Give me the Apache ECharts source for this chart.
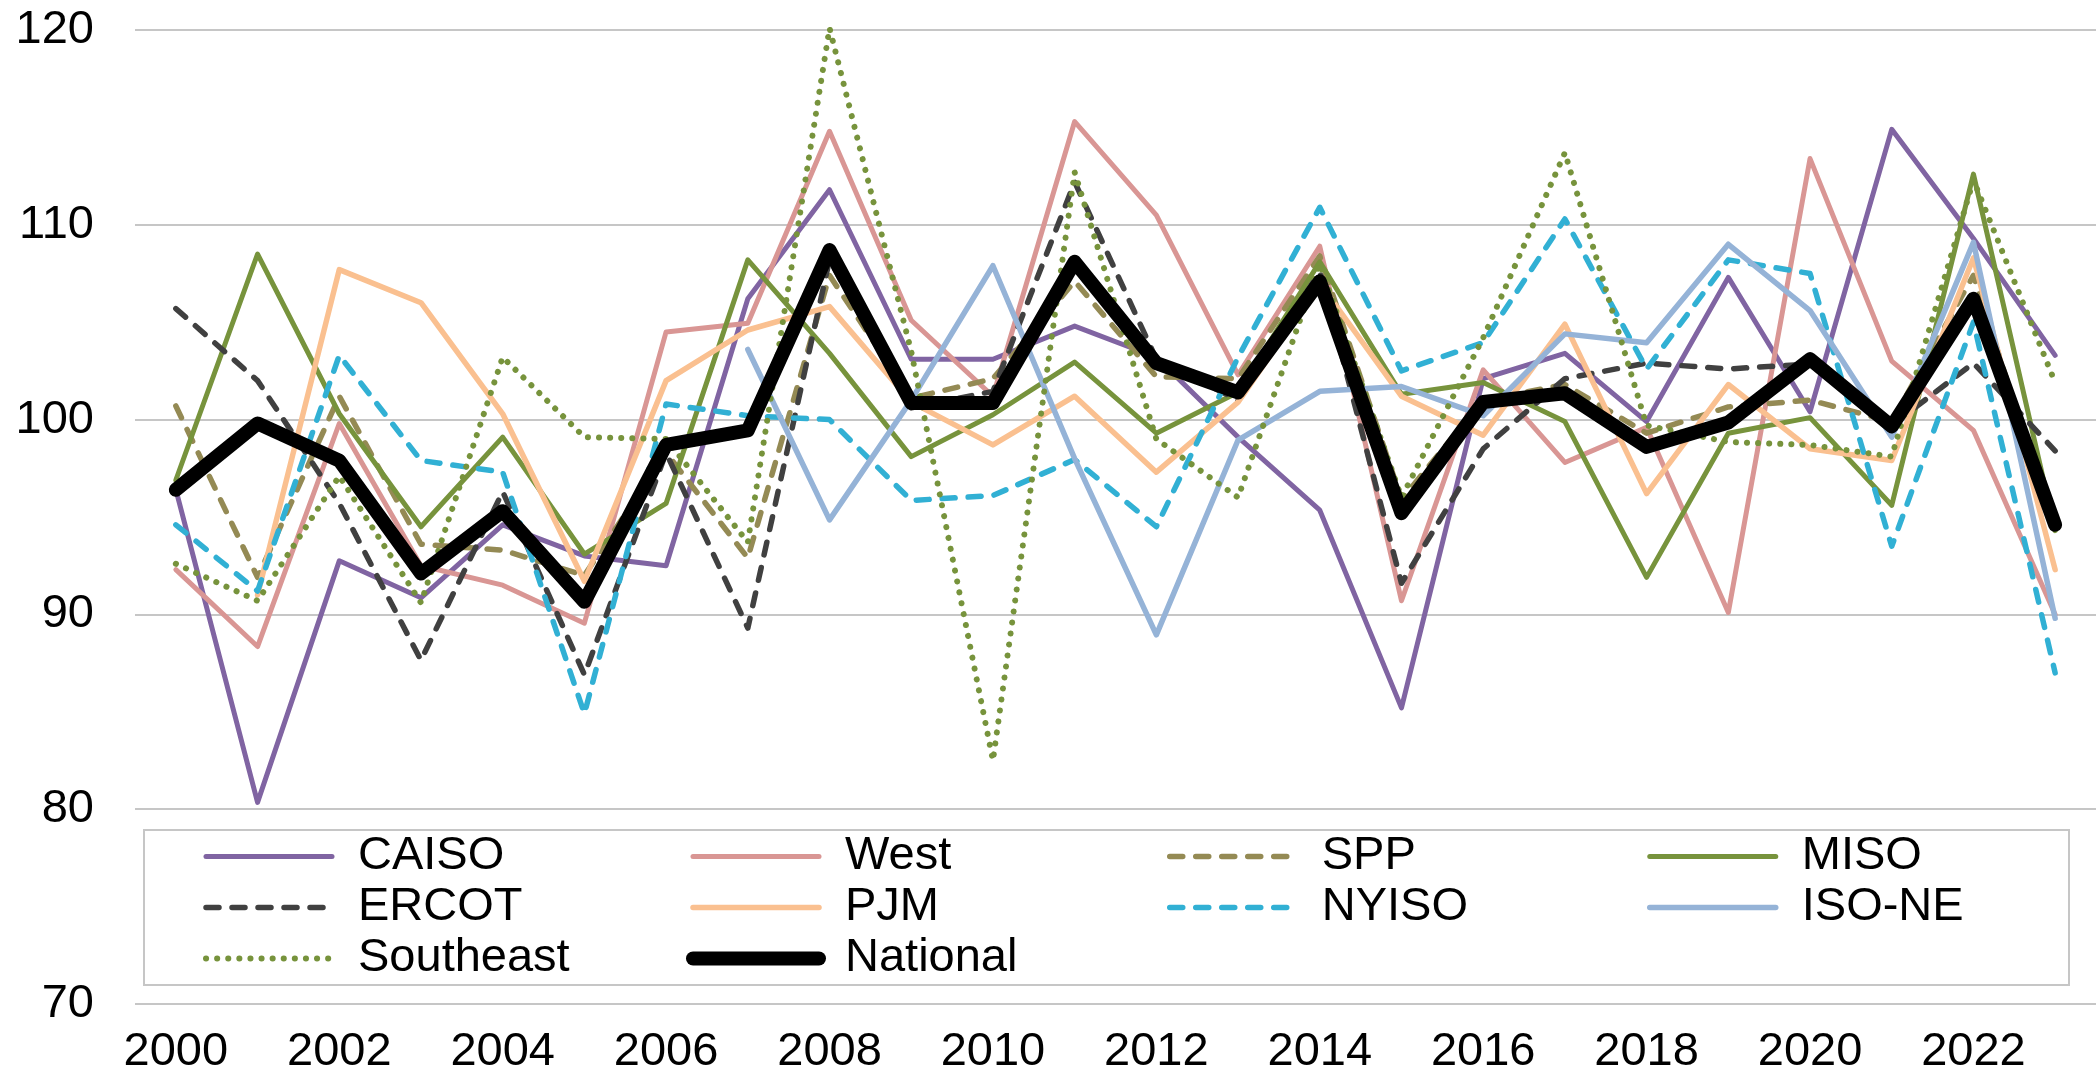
<!DOCTYPE html>
<html>
<head>
<meta charset="utf-8">
<script src="https://cdn.jsdelivr.net/npm/echarts@6/dist/echarts.min.js"></script>
<style>
  html, body { margin: 0; padding: 0; background: #fff; }
  #chart { width: 2096px; height: 1076px; }
</style>
</head>
<body>
<div id="chart"></div>
<script>
// Annual index by region, 2000-2023
const years = ['2000','2001','2002','2003','2004','2005','2006','2007','2008','2009','2010','2011',
               '2012','2013','2014','2015','2016','2017','2018','2019','2020','2021','2022','2023'];

const caiso     = [96.4, 80.35, 92.75, 90.85, 94.6, 93.0, 92.5, 106.2, 111.8, 103.1, 103.1, 104.8,
                   103.2, 99.1, 95.35, 85.2, 102.1, 103.4, 99.9, 107.3, 100.4, 114.9, 109.3, 103.3];
const west      = [92.3, 88.35, 99.8, 92.5, 91.5, 89.55, 104.5, 104.95, 114.8, 105.1, 101.2, 115.3,
                   110.5, 102.3, 108.9, 90.7, 102.55, 97.8, 99.6, 90.1, 113.4, 103.0, 99.45, 90.0];
const spp       = [100.7, 91.9, 101.2, 93.6, 93.3, 92.0, 98.3, 92.9, 107.4, 101.1, 102.1, 107.1,
                   102.2, 102.1, 108.4, 95.9, 101.0, 101.8, 99.3, 100.65, 101.0, 99.9, 107.4, 94.3];
const miso      = [96.9, 108.5, 100.3, 94.5, 99.1, 93.1, 95.7, 108.2, 103.4, 98.1, 100.25, 102.95,
                   99.3, 101.4, 108.1, 101.3, 101.9, 99.9, 91.9, 99.3, 100.1, 95.6, 112.6, 94.3];
const ercot     = [105.7, 102.0, 95.7, 87.65, 96.3, 86.9, 98.3, 89.3, 108.2, 100.6, 101.45, 112.2,
                   103.1, 101.0, 107.6, 91.6, 98.5, 102.1, 102.9, 102.6, 102.85, 99.7, 102.9, 98.4];
const pjm       = [null, 91.0, 107.7, 106.0, 100.3, 91.7, 102.0, 104.6, 105.8, 100.9, 98.7, 101.2,
                   97.3, 100.9, 107.0, 101.2, 99.2, 104.9, 96.2, 101.8, 98.5, 97.9, 108.3, 92.3];
const nyiso     = [94.6, 91.2, 103.3, 97.9, 97.3, 84.9, 100.8, 100.2, 100.0, 95.85, 96.1, 97.95,
                   94.5, 103.2, 110.9, 102.5, 103.95, 110.3, 102.6, 108.2, 107.5, 93.5, 105.0, 87.0];
const isone     = [null, null, null, null, null, null, null, 103.6, 94.85, 101.0, 107.9, 98.0,
                   88.95, 98.95, 101.45, 101.7, 100.2, 104.4, 103.95, 109.0, 105.6, 99.1, 109.1, 89.8];
const southeast = [92.6, 90.7, 97.1, 90.6, 103.2, 99.1, 99.0, 93.7, 120.1, 103.5, 82.5, 112.7,
                   99.0, 96.0, 108.0, 96.0, 104.2, 113.7, 99.7, 98.85, 98.7, 98.1, 112.3, 101.9];
const national  = [96.4, 99.8, 97.9, 92.1, 95.3, 90.65, 98.7, 99.45, 108.7, 100.85, 100.85, 108.1,
                   102.9, 101.4, 107.1, 95.2, 100.9, 101.35, 98.6, 99.85, 103.1, 99.65, 106.2, 94.6];

const yTicks = { min: 70, max: 120, step: 10 };

const FONT = "'Liberation Sans', Arial, sans-serif";

const DASH = [13, 13];
const DOT = [0.1, 11];

// Line look for each region
const styles = {
  'CAISO':     { color: '#8064A2', width: 5,   type: 'solid' },
  'West':      { color: '#D99694', width: 5,   type: 'solid' },
  'SPP':       { color: '#948A54', width: 5.5, type: DASH },
  'MISO':      { color: '#77933C', width: 5,   type: 'solid' },
  'ERCOT':     { color: '#404040', width: 5.5, type: DASH },
  'PJM':       { color: '#FAC090', width: 5.5, type: 'solid' },
  'NYISO':     { color: '#31B0D4', width: 5.5, type: DASH },
  'ISO-NE':    { color: '#95B3D7', width: 5.5, type: 'solid' },
  'Southeast': { color: '#77933C', width: 6,   type: DOT },
  'National':  { color: '#000000', width: 14,  type: 'solid' }
};

function lineStyleOf(name) {
  const s = styles[name];
  return { color: s.color, width: s.width, type: s.type, cap: 'round', join: 'round' };
}

function lineSeries(name, data) {
  return {
    name: name,
    type: 'line',
    data: data,
    symbol: 'none',
    connectNulls: false,
    animation: false,
    lineStyle: lineStyleOf(name),
    itemStyle: { color: styles[name].color },
    emphasis: { disabled: true }
  };
}

const series = [
  lineSeries('CAISO', caiso),
  lineSeries('West', west),
  lineSeries('SPP', spp),
  lineSeries('MISO', miso),
  lineSeries('ERCOT', ercot),
  lineSeries('PJM', pjm),
  lineSeries('NYISO', nyiso),
  lineSeries('ISO-NE', isone),
  lineSeries('Southeast', southeast),
  lineSeries('National', national)
];

function legendColumn(left, names) {
  return {
    orient: 'vertical',
    left: left,
    top: 831,
    padding: 0,
    itemGap: 0,
    itemWidth: 126,
    itemHeight: 20,
    selectedMode: false,
    itemStyle: { opacity: 0 },
    textStyle: {
      fontFamily: FONT, fontSize: 47, color: '#000',
      lineHeight: 51, padding: [0, 0, 0, 21]
    },
    data: names.map(function (n) {
      return { name: n, lineStyle: lineStyleOf(n), itemStyle: { opacity: 0 } };
    })
  };
}

const chart = echarts.init(document.getElementById('chart'), null, { renderer: 'canvas' });

chart.setOption({
  backgroundColor: '#ffffff',
  animation: false,
  grid: { left: 135, top: 30, width: 1973, height: 975.5, containLabel: false },
  xAxis: {
    type: 'category',
    data: years,
    boundaryGap: true,
    axisLine: { show: false },
    axisTick: { show: false },
    axisLabel: { interval: 1, margin: 25, fontFamily: FONT, fontSize: 47, color: '#000' },
    splitLine: { show: false }
  },
  yAxis: {
    type: 'value',
    min: yTicks.min,
    max: yTicks.max,
    interval: yTicks.step,
    axisLine: { show: false },
    axisTick: { show: false },
    axisLabel: { margin: 41, fontFamily: FONT, fontSize: 47, color: '#000' },
    splitLine: { show: true, lineStyle: { color: '#C6C6C6', width: 2 } }
  },
  legend: [
    legendColumn(203, ['CAISO', 'ERCOT', 'Southeast']),
    legendColumn(686, ['West', 'PJM', 'National']),
    legendColumn(1167, ['SPP', 'NYISO']),
    legendColumn(1647, ['MISO', 'ISO-NE'])
  ],
  graphic: [{
    type: 'rect',
    z: 1,
    shape: { x: 144, y: 830, width: 1925, height: 155 },
    style: { fill: '#ffffff', stroke: '#C6C6C6', lineWidth: 2 }
  }],
  series: series
});
</script>
</body>
</html>
